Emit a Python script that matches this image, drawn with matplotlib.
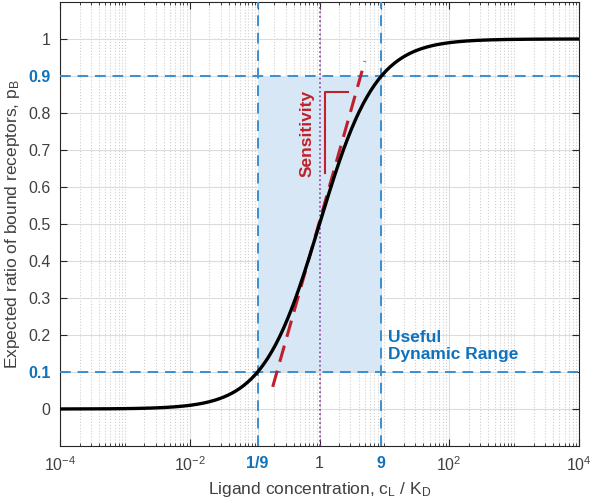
import matplotlib.pyplot as plt
import matplotlib.ticker as mticker
import numpy as np

plt.rcParams['font.family'] = ['Liberation Sans', 'DejaVu Sans']
plt.rcParams['mathtext.default'] = 'regular'

# data
conc = np.logspace(-4, 4, 400)
p_bound = conc / (1 + conc)
range_x = [1 / 9, 9]
range_y = [0.1, 0.9]
tangent_x = [0.19, 5.0]
tangent_y = [0.06, 0.94]
bracket_x = [1.22, 1.22, 2.75]
bracket_y = [0.638, 0.856, 0.856]

xticks = [1e-4, 1e-2, 1 / 9, 1, 9, 1e2, 1e4]
xlabels = ['$10^{-4}$', '$10^{-2}$', '1/9', '1', '9', '$10^{2}$', '$10^{4}$']
yticks = [0, 0.1, 0.2, 0.3, 0.4, 0.5, 0.6, 0.7, 0.8, 0.9, 1]
ylabels = ['0', '0.1', '0.2', '0.3', '0.4', '0.5', '0.6', '0.7', '0.8', '0.9', '1']

blue = '#3b8ed0'
blue_txt = '#0f72bd'
red = '#c0202a'
grey = '#404040'

fig = plt.figure(figsize=(5.94, 5.03), dpi=100)
ax = fig.add_axes([60 / 594, 57 / 503, 519 / 594, 444 / 503])

ax.fill_between(range_x, range_y[0], range_y[1], color='#d7e7f5', lw=0, zorder=1)
ax.axvline(1, color='#8a3aa0', ls=':', lw=1.2, zorder=2)
for v in range_x:
    ax.axvline(v, color=blue, ls=(0, (5.5, 3.5)), lw=1.4, zorder=3)
for v in range_y:
    ax.axhline(v, color=blue, ls=(0, (5.5, 3.5)), lw=1.4, zorder=3)

ax.plot(tangent_x, tangent_y, color=red, ls=(0, (5.5, 3)), lw=2.2, zorder=4)
ax.plot(bracket_x, bracket_y, color=red, lw=1.5, zorder=4)
ax.plot(conc, p_bound, color='black', lw=2.4, zorder=5)

ax.text(0.64, 0.745, 'Sensitivity', rotation=90, color=red, fontsize=12.5,
        fontweight='bold', ha='center', va='center', zorder=6)
ax.text(11.5, 0.17, 'Useful\nDynamic Range', color=blue_txt, fontsize=12.5,
        fontweight='bold', ha='left', va='center', linespacing=1.1, zorder=6)

ax.set_xscale('log')
ax.set_xlim(1e-4, 1e4)
ax.set_ylim(-0.1, 1.1)
ax.set_xticks(xticks)
ax.set_xticklabels(xlabels)
ax.set_yticks(yticks)
ax.set_yticklabels(ylabels)
ax.xaxis.set_minor_locator(mticker.LogLocator(base=10, subs=np.arange(1, 10), numticks=50))
ax.xaxis.set_minor_formatter(mticker.NullFormatter())

ax.grid(True, which='major', color='#dcdcdc', lw=0.8)
ax.grid(True, which='minor', axis='x', color='#cfcfcf', ls=':', lw=0.8)
ax.set_axisbelow(True)
ax.tick_params(which='both', direction='in', top=True, right=True, colors='#262626',
               labelcolor=grey, labelsize=11.5)
ax.tick_params(which='major', length=5, pad=7)
ax.tick_params(which='minor', length=2.5)
for s in ax.spines.values():
    s.set_color('#262626')
    s.set_linewidth(0.8)

for lab in ax.get_xticklabels() + ax.get_yticklabels():
    if lab.get_text() in ('1/9', '9', '0.1', '0.9'):
        lab.set_color(blue_txt)
        lab.set_fontweight('bold')

ax.set_xlabel('Ligand concentration, c$_{L}$ / K$_{D}$', fontsize=12.5, color=grey)
ax.set_ylabel('Expected ratio of bound receptors, p$_{B}$', fontsize=12.5, color=grey)

fig.savefig('out.png', dpi=100)
